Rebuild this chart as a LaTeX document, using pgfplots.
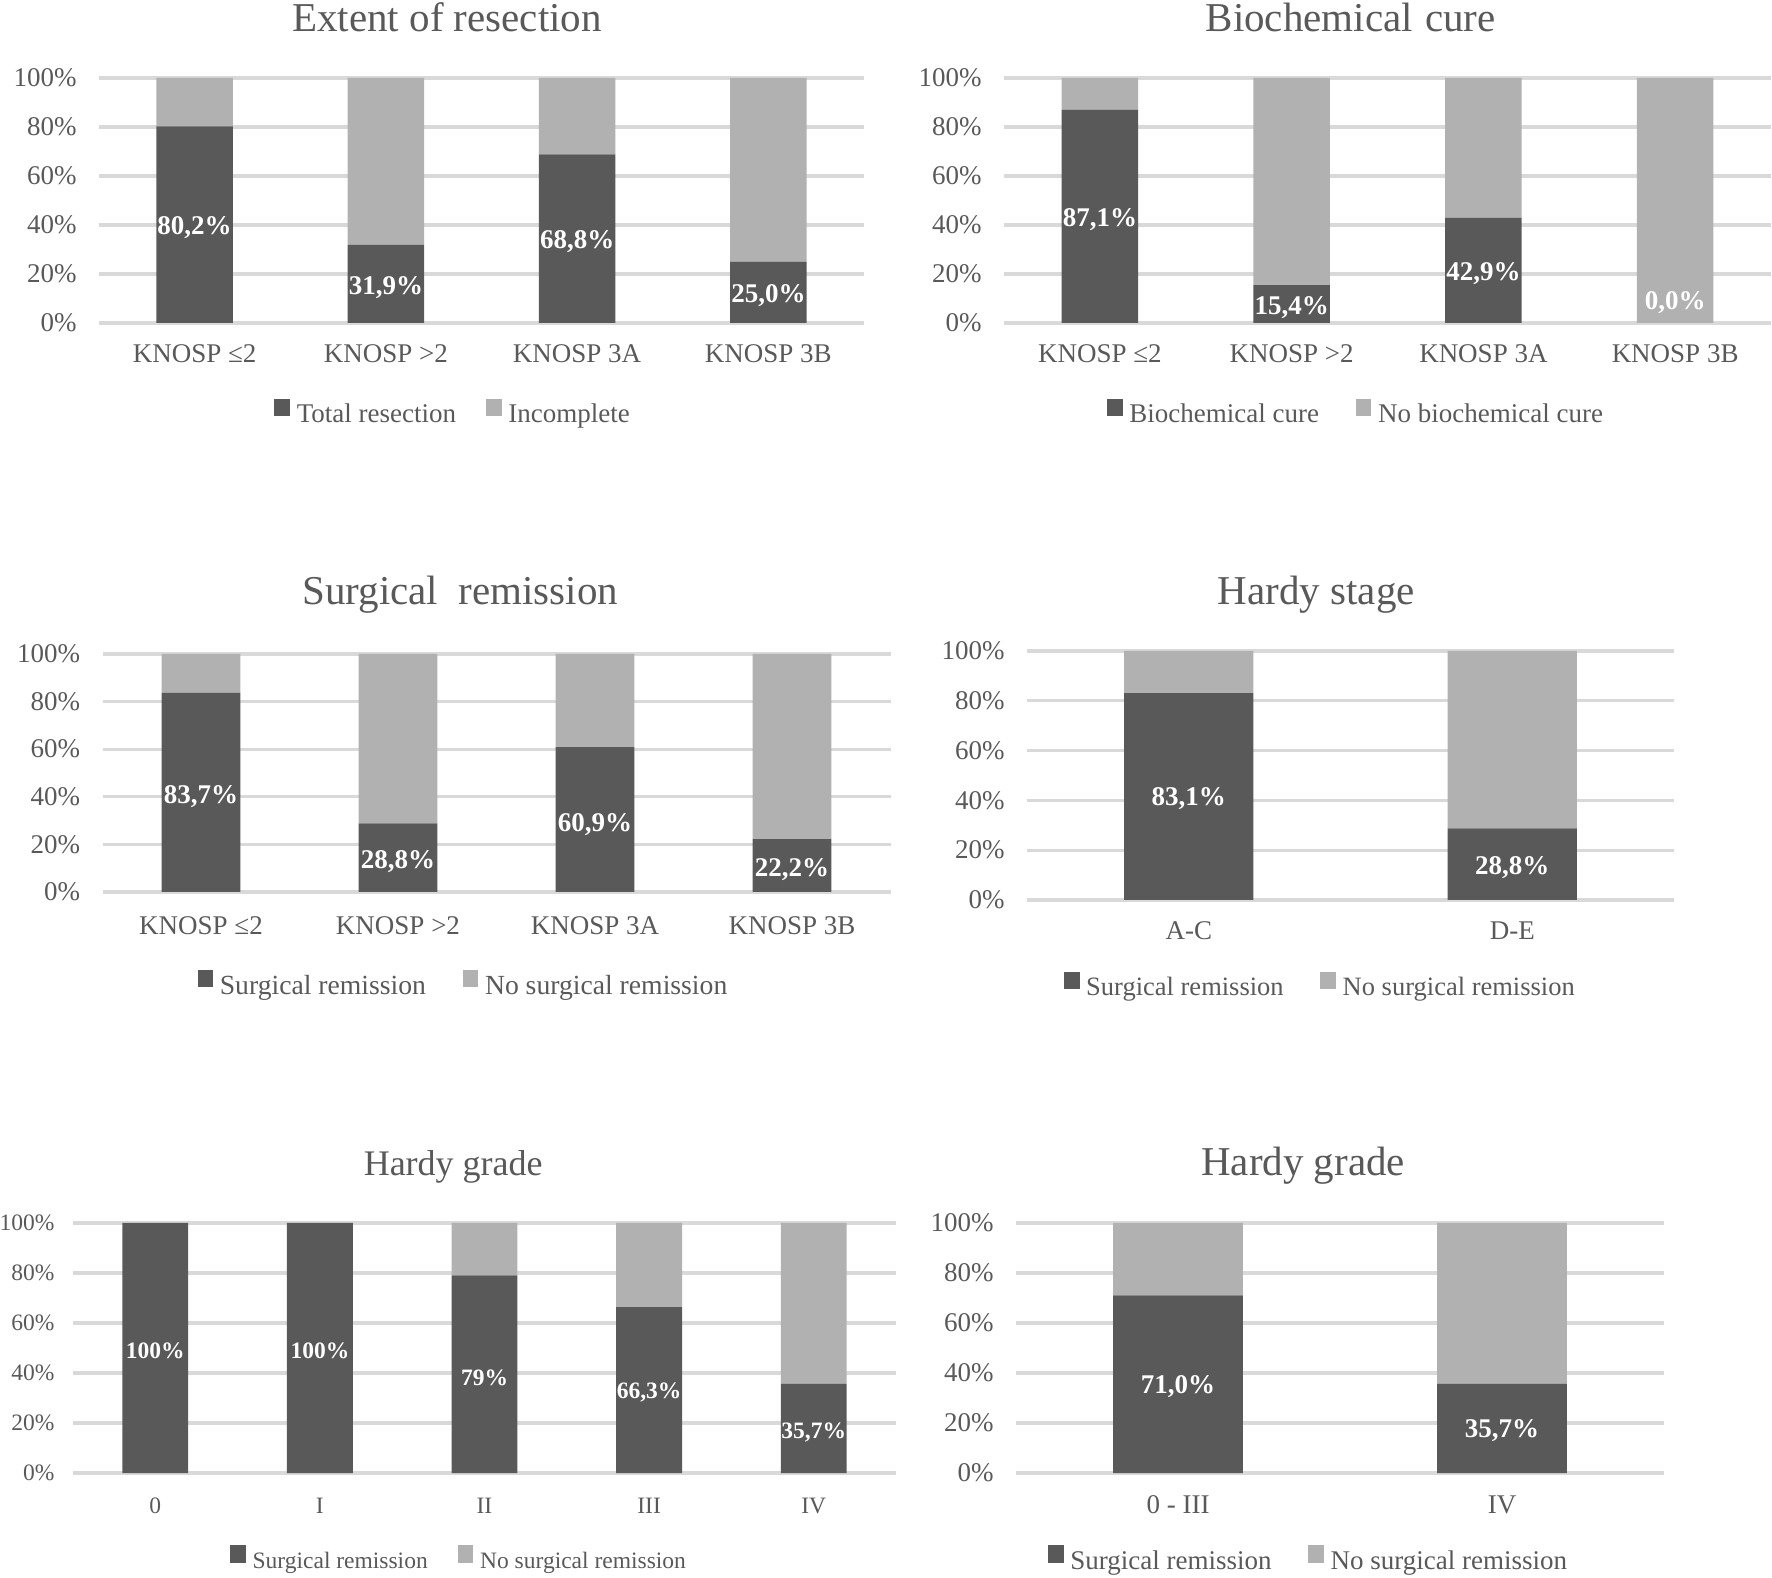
\documentclass[border=0pt]{standalone}
\usepackage{fontspec}
\setmainfont{Liberation Serif}
\usepackage{pgfplots}
\pgfplotsset{compat=1.18}
\definecolor{darkbar}{HTML}{595959}
\definecolor{lightbar}{HTML}{B1B1B1}
\definecolor{gridc}{HTML}{D9D9D9}
\definecolor{txt}{HTML}{595959}
\newcommand{\sfont}{\fontsize{8.1}{9.7}\selectfont}
\newcommand{\ssfont}{\fontsize{7.05}{8.5}\selectfont}
\newcommand{\tfont}{\fontsize{12.3}{14}\selectfont}
\newcommand{\ttfont}{\fontsize{10.8}{12.5}\selectfont}
\pgfplotsset{
  panel/.style={
    ybar stacked, bar width=0.4, scale only axis,
    anchor=south west,
    ymin=0, ymax=100, ytick={0,20,40,60,80,100},
    yticklabels={0\%,20\%,40\%,60\%,80\%,100\%},
    ymajorgrids, grid style={line width=1pt, color=gridc},
    axis x line*=bottom, axis y line*=left,
    axis line style={draw=none}, major tick length=0pt,
    tick label style={font=\sfont, text=txt},
    yticklabel style={anchor=east, xshift=-3.2pt},
    xticklabel style={anchor=base, yshift=-12pt},
    title style={font=\tfont, text=txt, anchor=base},
    legend columns=2,
    legend style={draw=none, fill=none, font=\sfont, text=txt,
      /tikz/every even column/.append style={column sep=9pt},
      anchor=center},
    legend image code/.code={\fill[##1] (0pt,0pt) rectangle (0.47em,0.52em);},
  },
  labels/.style={
    scale only axis, anchor=south west, hide axis,
    ymin=0, ymax=100,
    nodes near coords, point meta=explicit symbolic,
    nodes near coords style={font=\sfont\bfseries, text=white, anchor=center},
  },
}
\begin{document}
\begin{tikzpicture}
\useasboundingbox (0,0) rectangle (531.6pt,473.1pt);

% ---------- Panel 1: Extent of resection
\begin{axis}[panel, at={(29.7pt,376.2pt)}, width=229.5pt, height=73.5pt,
  xmin=-0.5, xmax=3.5, xtick={0,1,2,3},
  xticklabels={KNOSP ≤2, KNOSP >2, KNOSP 3A, KNOSP 3B},
  title={Extent of resection}, title style={at={(0.455,1)}, yshift=7.8pt},
  legend style={at={(0.466,-0.380)}, /tikz/every even column/.append style={column sep=7pt}}]
\addplot[fill=darkbar, draw=none] coordinates {(0,80.2) (1,31.9) (2,68.8) (3,25.0)};
\addplot[fill=lightbar, draw=none] coordinates {(0,19.8) (1,68.1) (2,31.2) (3,75.0)};
\addlegendentry{Total resection}
\addlegendentry{Incomplete}
\end{axis}
\begin{axis}[labels, at={(29.7pt,376.2pt)}, width=229.5pt, height=73.5pt, xmin=-0.5, xmax=3.5]
\addplot[draw=none, mark=none] coordinates {(0,38.8)[80,2\%] (1,14.6)[31,9\%] (2,33.1)[68,8\%] (3,11.2)[25,0\%]};
\end{axis}

% ---------- Panel 2: Biochemical cure
\begin{axis}[panel, at={(301.2pt,376.2pt)}, width=230.1pt, height=73.5pt,
  xmin=-0.5, xmax=3.5, xtick={0,1,2,3},
  xticklabels={KNOSP ≤2, KNOSP >2, KNOSP 3A, KNOSP 3B},
  title={Biochemical\hspace{0.3em}cure}, title style={at={(0.452,1)}, yshift=7.8pt},
  legend style={at={(0.462,-0.380)}}]
\addplot[fill=darkbar, draw=none] coordinates {(0,87.1) (1,15.4) (2,42.9) (3,0.0)};
\addplot[fill=lightbar, draw=none] coordinates {(0,12.9) (1,84.6) (2,57.1) (3,100.0)};
\addlegendentry{Biochemical cure}
\addlegendentry{No biochemical cure}
\end{axis}
\begin{axis}[labels, at={(301.2pt,376.2pt)}, width=230.1pt, height=73.5pt, xmin=-0.5, xmax=3.5]
\addplot[draw=none, mark=none] coordinates {(0,42.1)[87,1\%] (1,6.3)[15,4\%] (2,20.3)[42,9\%] (3,8.2)[0,0\%]};
\end{axis}

% ---------- Panel 3: Surgical remission
\begin{axis}[panel, at={(30.75pt,205.5pt)}, width=236.4pt, height=71.4pt,
  xmin=-0.5, xmax=3.5, xtick={0,1,2,3},
  xticklabels={KNOSP ≤2, KNOSP >2, KNOSP 3A, KNOSP 3B},
  xticklabel style={yshift=-0.9pt},
  title={Surgical\ \ remission}, title style={at={(0.454,1)}, yshift=8.7pt},
  legend style={font=\fontsize{8.3}{10}\selectfont, at={(0.461,-0.399)}}]
\addplot[fill=darkbar, draw=none] coordinates {(0,83.7) (1,28.8) (2,60.9) (3,22.2)};
\addplot[fill=lightbar, draw=none] coordinates {(0,16.3) (1,71.2) (2,39.1) (3,77.8)};
\addlegendentry{Surgical remission}
\addlegendentry{No surgical remission}
\end{axis}
\begin{axis}[labels, at={(30.75pt,205.5pt)}, width=236.4pt, height=71.4pt, xmin=-0.5, xmax=3.5]
\addplot[draw=none, mark=none] coordinates {(0,40.0)[83,7\%] (1,12.8)[28,8\%] (2,28.4)[60,9\%] (3,9.4)[22,2\%]};
\end{axis}

% ---------- Panel 4: Hardy stage
\begin{axis}[panel, at={(308.1pt,203.1pt)}, width=194.1pt, height=74.7pt,
  xmin=-0.5, xmax=1.5, xtick={0,1},
  xticklabels={A-C, D-E},
  title={Hardy stage}, title style={at={(0.447,1)}, yshift=7.8pt},
  legend style={font=\fontsize{7.95}{9.5}\selectfont, at={(0.457,-0.357)}}]
\addplot[fill=darkbar, draw=none] coordinates {(0,83.1) (1,28.8)};
\addplot[fill=lightbar, draw=none] coordinates {(0,16.9) (1,71.2)};
\addlegendentry{Surgical remission}
\addlegendentry{No surgical remission}
\end{axis}
\begin{axis}[labels, at={(308.1pt,203.1pt)}, width=194.1pt, height=74.7pt, xmin=-0.5, xmax=1.5]
\addplot[draw=none, mark=none] coordinates {(0,40.6)[83,1\%] (1,13.2)[28,8\%]};
\end{axis}

% ---------- Panel 5: Hardy grade (5 groups)
\begin{axis}[panel, at={(21.9pt,31.2pt)}, width=246.9pt, height=75pt,
  xmin=-0.5, xmax=4.5, xtick={0,1,2,3,4},
  xticklabels={0, I, II, III, IV},
  tick label style={font=\ssfont},
  yticklabel style={xshift=1.2pt},
  title={Hardy grade}, title style={font=\ttfont, at={(0.462,1)}, yshift=8.1pt},
  legend style={font=\ssfont, at={(0.472,-0.358)},
    /tikz/every even column/.append style={column sep=7pt}}]
\addplot[fill=darkbar, draw=none] coordinates {(0,100) (1,100) (2,79) (3,66.3) (4,35.7)};
\addplot[fill=lightbar, draw=none] coordinates {(0,0) (1,0) (2,21) (3,33.7) (4,64.3)};
\addlegendentry{Surgical remission}
\addlegendentry{No surgical remission}
\end{axis}
\begin{axis}[labels, at={(21.9pt,31.2pt)}, width=246.9pt, height=75pt, xmin=-0.5, xmax=4.5,
  nodes near coords style={font=\ssfont\bfseries}]
\addplot[draw=none, mark=none] coordinates {(0,49.0)[100\%] (1,49.0)[100\%] (2,38.2)[79\%] (3,32.0)[66,3\%] (4,16.3)[35,7\%]};
\end{axis}

% ---------- Panel 6: Hardy grade (2 groups)
\begin{axis}[panel, at={(304.8pt,31.2pt)}, width=194.4pt, height=75pt,
  xmin=-0.5, xmax=1.5, xtick={0,1},
  xticklabels={0 - III, IV},
  title={Hardy grade}, title style={at={(0.443,1)}, yshift=8.1pt},
  legend style={at={(0.455,-0.358)}}]
\addplot[fill=darkbar, draw=none] coordinates {(0,71.0) (1,35.7)};
\addplot[fill=lightbar, draw=none] coordinates {(0,29.0) (1,64.3)};
\addlegendentry{Surgical remission}
\addlegendentry{No surgical remission}
\end{axis}
\begin{axis}[labels, at={(304.8pt,31.2pt)}, width=194.4pt, height=75pt, xmin=-0.5, xmax=1.5]
\addplot[draw=none, mark=none] coordinates {(0,34.4)[71,0\%] (1,17.0)[35,7\%]};
\end{axis}
\end{tikzpicture}
\end{document}
